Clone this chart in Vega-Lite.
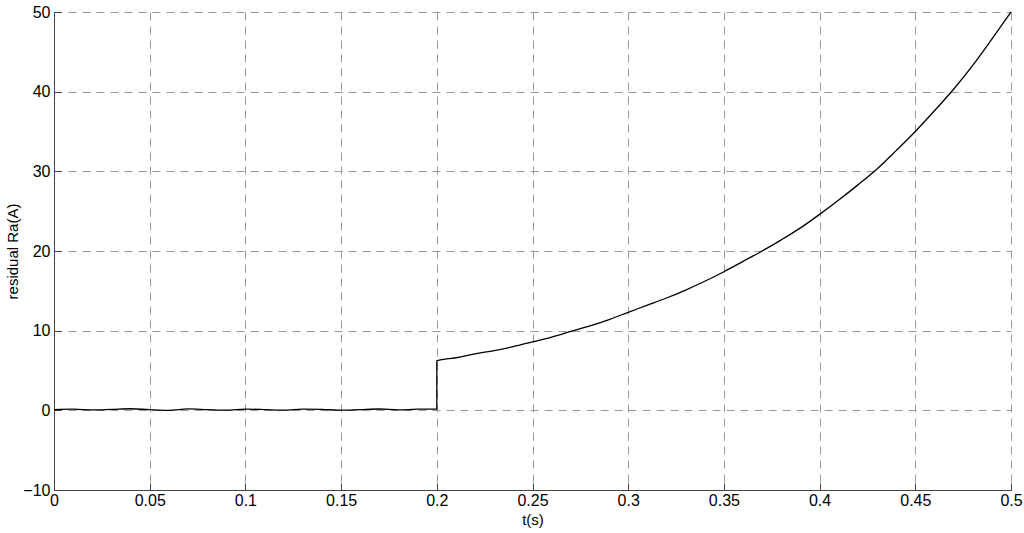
{
  "$schema": "https://vega.github.io/schema/vega-lite/v6.json",
  "width": 957,
  "height": 478,
  "autosize": {"type": "none"},
  "padding": {"left": 54, "top": 12, "right": 13, "bottom": 43},
  "background": "white",
  "config": {
    "view": {"stroke": null},
    "font": "Liberation Sans"
  },
  "data": {
    "values": [
      {"i": 0, "t": 0.0, "r": 0.1},
      {"i": 1, "t": 0.01, "r": 0.15},
      {"i": 2, "t": 0.02, "r": 0.05},
      {"i": 3, "t": 0.03, "r": 0.12},
      {"i": 4, "t": 0.04, "r": 0.2},
      {"i": 5, "t": 0.05, "r": 0.08},
      {"i": 6, "t": 0.06, "r": 0.0},
      {"i": 7, "t": 0.07, "r": 0.18},
      {"i": 8, "t": 0.08, "r": 0.1},
      {"i": 9, "t": 0.09, "r": 0.02},
      {"i": 10, "t": 0.1, "r": 0.15},
      {"i": 11, "t": 0.11, "r": 0.1},
      {"i": 12, "t": 0.12, "r": 0.03},
      {"i": 13, "t": 0.13, "r": 0.16},
      {"i": 14, "t": 0.14, "r": 0.12},
      {"i": 15, "t": 0.15, "r": 0.02},
      {"i": 16, "t": 0.16, "r": 0.1},
      {"i": 17, "t": 0.17, "r": 0.17},
      {"i": 18, "t": 0.18, "r": 0.06},
      {"i": 19, "t": 0.19, "r": 0.14},
      {"i": 20, "t": 0.2, "r": 0.15},
      {"i": 21, "t": 0.2, "r": 6.2},
      {"i": 22, "t": 0.21, "r": 6.6},
      {"i": 23, "t": 0.22, "r": 7.1},
      {"i": 24, "t": 0.23, "r": 7.5},
      {"i": 25, "t": 0.24, "r": 8.0},
      {"i": 26, "t": 0.25, "r": 8.6},
      {"i": 27, "t": 0.26, "r": 9.2},
      {"i": 28, "t": 0.27, "r": 9.9},
      {"i": 29, "t": 0.28, "r": 10.6},
      {"i": 30, "t": 0.29, "r": 11.4},
      {"i": 31, "t": 0.3, "r": 12.3},
      {"i": 32, "t": 0.31, "r": 13.2},
      {"i": 33, "t": 0.32, "r": 14.1},
      {"i": 34, "t": 0.33, "r": 15.1},
      {"i": 35, "t": 0.34, "r": 16.2},
      {"i": 36, "t": 0.35, "r": 17.4},
      {"i": 37, "t": 0.36, "r": 18.7},
      {"i": 38, "t": 0.37, "r": 20.0},
      {"i": 39, "t": 0.38, "r": 21.4},
      {"i": 40, "t": 0.39, "r": 22.9},
      {"i": 41, "t": 0.4, "r": 24.6},
      {"i": 42, "t": 0.41, "r": 26.4},
      {"i": 43, "t": 0.42, "r": 28.3},
      {"i": 44, "t": 0.43, "r": 30.3},
      {"i": 45, "t": 0.44, "r": 32.6},
      {"i": 46, "t": 0.45, "r": 35.0},
      {"i": 47, "t": 0.46, "r": 37.6},
      {"i": 48, "t": 0.47, "r": 40.3},
      {"i": 49, "t": 0.48, "r": 43.3},
      {"i": 50, "t": 0.49, "r": 46.6},
      {"i": 51, "t": 0.5, "r": 50.0}
    ]
  },
  "mark": {"type": "line", "color": "black", "strokeWidth": 1.3, "interpolate": "monotone"},
  "encoding": {
    "x": {
      "field": "t",
      "type": "quantitative",
      "scale": {"domain": [0, 0.5], "nice": false, "zero": false},
      "axis": {
        "title": "t(s)",
        "values": [0, 0.05, 0.1, 0.15, 0.2, 0.25, 0.3, 0.35, 0.4, 0.45, 0.5],
        "format": "~g",
        "labelFlush": false,
        "labelFontSize": 16,
        "labelColor": "black",
        "labelPadding": 9,
        "titleFontSize": 15,
        "titleFontWeight": "normal",
        "titleColor": "black",
        "titlePadding": 4,
        "domainColor": "#444444",
        "tickColor": "#444444",
        "tickSize": -7,
        "grid": true,
        "gridColor": "#999999",
        "gridDash": [8, 6],
        "gridWidth": 1
      }
    },
    "y": {
      "field": "r",
      "type": "quantitative",
      "scale": {"domain": [-10, 50], "nice": false, "zero": false},
      "axis": {
        "title": "residual Ra(A)",
        "values": [-10, 0, 10, 20, 30, 40, 50],
        "labelFlush": false,
        "labelFontSize": 16,
        "labelColor": "black",
        "labelPadding": 11,
        "titleFontSize": 15,
        "titleFontWeight": "normal",
        "titleColor": "black",
        "titlePadding": 2,
        "domainColor": "#444444",
        "tickColor": "#444444",
        "tickSize": -7,
        "grid": true,
        "gridColor": "#999999",
        "gridDash": [8, 6],
        "gridWidth": 1
      }
    },
    "order": {"field": "i", "type": "quantitative"}
  }
}
